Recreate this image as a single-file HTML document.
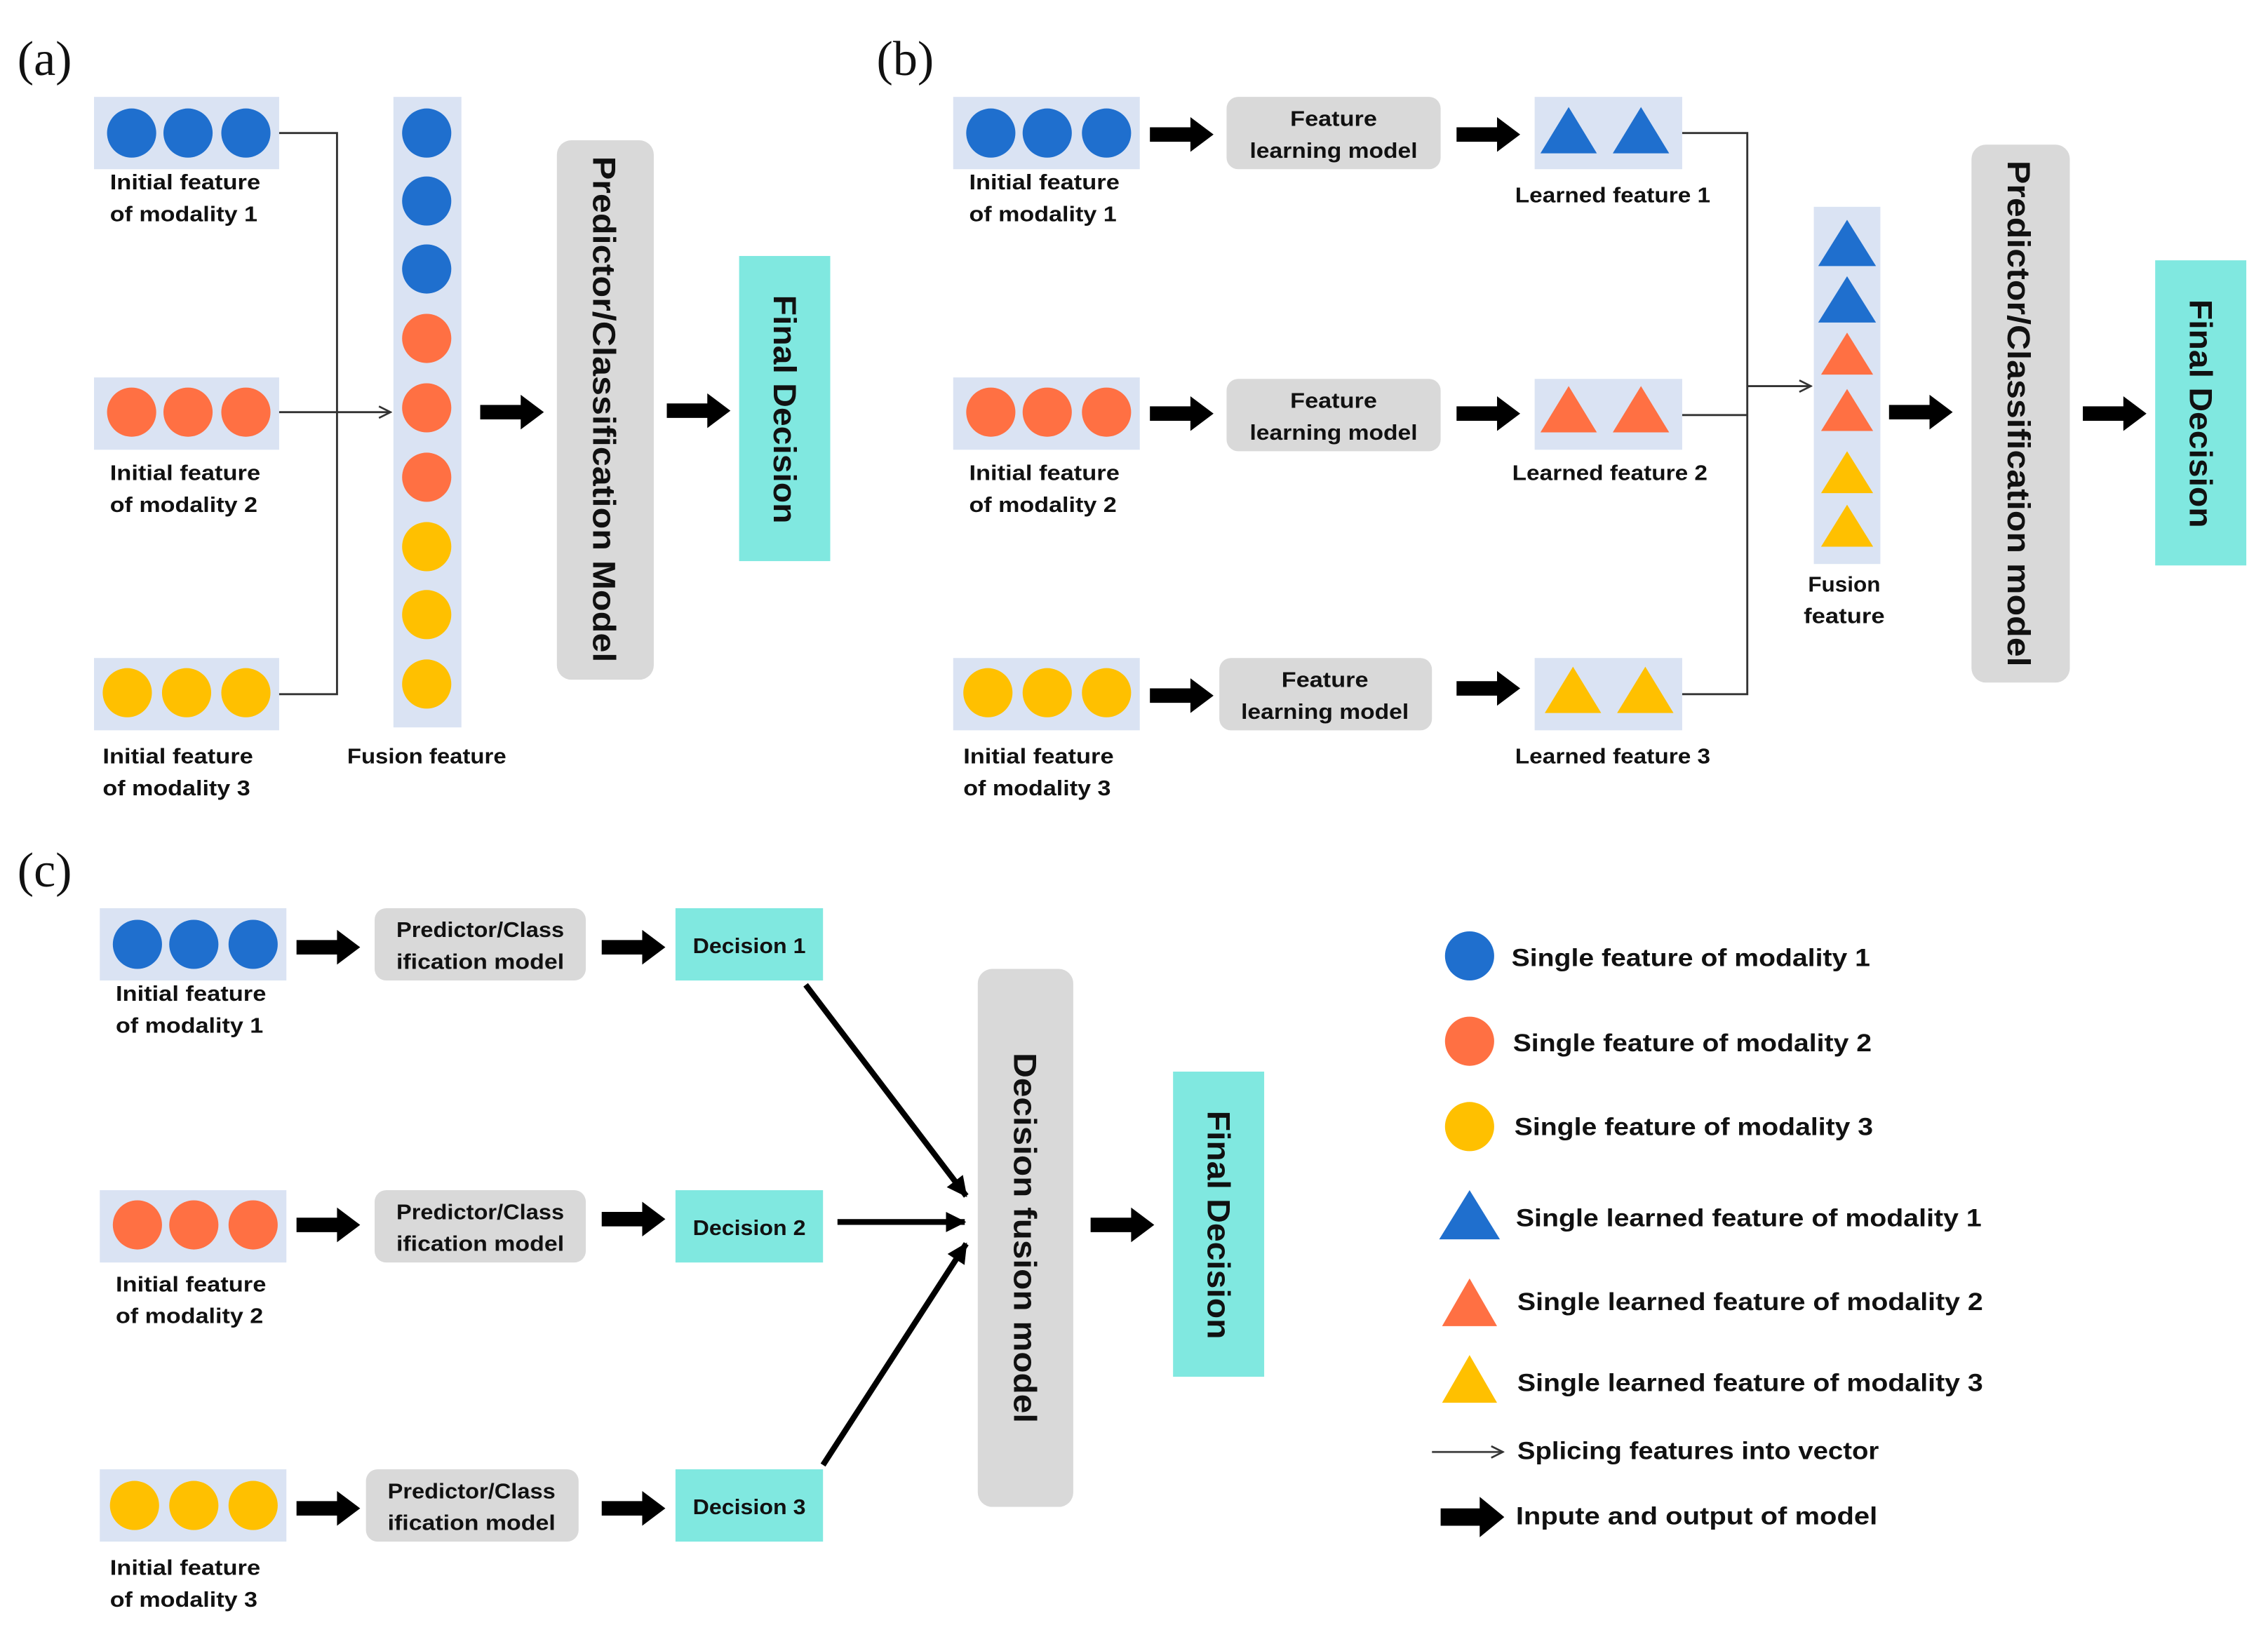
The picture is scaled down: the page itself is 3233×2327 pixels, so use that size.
<!DOCTYPE html>
<html><head><meta charset="utf-8"><style>html,body{margin:0;padding:0;background:#fff}svg{display:block}</style></head>
<body>
<svg width="3233" height="2327" viewBox="0 0 1568 1128.5" preserveAspectRatio="none" xmlns="http://www.w3.org/2000/svg" font-family="Liberation Sans, sans-serif" font-weight="bold">
<defs>
<symbol id="ta" viewBox="0 0 44 24" overflow="visible"><polygon points="0,7 28,7 28,0 44,12 28,24 28,17 0,17" fill="#000"/></symbol>
<marker id="thin" markerWidth="10" markerHeight="10" refX="9" refY="5" orient="auto" markerUnits="userSpaceOnUse"><path d="M1,1 L9,5 L1,9" fill="none" stroke="#333" stroke-width="1.3"/></marker>
<marker id="thk" markerWidth="16" markerHeight="16" refX="13" refY="8" orient="auto" markerUnits="userSpaceOnUse"><path d="M0,1 L14,8 L0,15 Z" fill="#000"/></marker>
</defs>
<rect width="1568" height="1128.5" fill="#fff"/>
<g font-family="Liberation Serif, serif" font-weight="normal" font-size="34" fill="#111">
<text x="12" y="52">(a)</text><text x="606" y="52">(b)</text><text x="12" y="613">(c)</text>
</g>

<!-- (a) -->
<g fill="#dae3f3"><rect x="65" y="67" width="128" height="50"/><rect x="65" y="261" width="128" height="50"/><rect x="65" y="455" width="128" height="50"/><rect x="272" y="67" width="47" height="436"/></g>
<g fill="#1f6fce"><circle cx="91" cy="92" r="17"/><circle cx="130" cy="92" r="17"/><circle cx="170" cy="92" r="17"/><circle cx="295" cy="92" r="17"/><circle cx="295" cy="139" r="17"/><circle cx="295" cy="186" r="17"/></g>
<g fill="#ff7043"><circle cx="91" cy="285" r="17"/><circle cx="130" cy="285" r="17"/><circle cx="170" cy="285" r="17"/><circle cx="295" cy="234" r="17"/><circle cx="295" cy="282" r="17"/><circle cx="295" cy="330" r="17"/></g>
<g fill="#ffc000"><circle cx="88" cy="479" r="17"/><circle cx="129" cy="479" r="17"/><circle cx="170" cy="479" r="17"/><circle cx="295" cy="378" r="17"/><circle cx="295" cy="425" r="17"/><circle cx="295" cy="473" r="17"/></g>
<g stroke="#333" stroke-width="1.4" fill="none"><polyline points="193,92 233,92 233,480 193,480"/><line x1="193" y1="285" x2="270" y2="285" marker-end="url(#thin)"/></g>
<g font-size="15" fill="#111" text-anchor="middle">
<text x="128" y="131" textLength="104" lengthAdjust="spacingAndGlyphs">Initial feature</text><text x="127" y="153" textLength="102" lengthAdjust="spacingAndGlyphs">of modality 1</text>
<text x="128" y="332" textLength="104" lengthAdjust="spacingAndGlyphs">Initial feature</text><text x="127" y="354" textLength="102" lengthAdjust="spacingAndGlyphs">of modality 2</text>
<text x="123" y="528" textLength="104" lengthAdjust="spacingAndGlyphs">Initial feature</text><text x="122" y="550" textLength="102" lengthAdjust="spacingAndGlyphs">of modality 3</text>
<text x="295" y="528" textLength="110" lengthAdjust="spacingAndGlyphs">Fusion feature</text>
</g>
<use href="#ta" x="332" y="273" width="44" height="24"/>
<rect x="385" y="97" width="67" height="373" rx="10" fill="#d9d9d9"/>
<text transform="translate(410,283) rotate(90)" text-anchor="middle" font-size="22" fill="#111" textLength="350" lengthAdjust="spacingAndGlyphs">Predictor/Classification Model</text>
<use href="#ta" x="461" y="272" width="44" height="24"/>
<rect x="511" y="177" width="63" height="211" fill="#80e8e0"/>
<text transform="translate(535,283) rotate(90)" text-anchor="middle" font-size="22" fill="#111" textLength="158" lengthAdjust="spacingAndGlyphs">Final Decision</text>

<!-- (b) -->
<g fill="#dae3f3"><rect x="659" y="67" width="129" height="50"/><rect x="659" y="261" width="129" height="50"/><rect x="659" y="455" width="129" height="50"/>
<rect x="1061" y="67" width="102" height="50"/><rect x="1061" y="262" width="102" height="49"/><rect x="1061" y="455" width="102" height="50"/><rect x="1254" y="143" width="46" height="247"/></g>
<g fill="#1f6fce"><circle cx="685" cy="92" r="17"/><circle cx="724" cy="92" r="17"/><circle cx="765" cy="92" r="17"/>
<polygon points="1065,106 1104,106 1084.5,74"/><polygon points="1115,106 1154,106 1134.5,74"/><polygon points="1257,184 1297,184 1277,152"/><polygon points="1257,223 1297,223 1277,191"/></g>
<g fill="#ff7043"><circle cx="685" cy="285" r="17"/><circle cx="724" cy="285" r="17"/><circle cx="765" cy="285" r="17"/>
<polygon points="1065,299 1104,299 1084.5,267"/><polygon points="1115,299 1154,299 1134.5,267"/><polygon points="1259,259 1295,259 1277,230"/><polygon points="1259,298 1295,298 1277,269"/></g>
<g fill="#ffc000"><circle cx="683" cy="479" r="17"/><circle cx="724" cy="479" r="17"/><circle cx="765" cy="479" r="17"/>
<polygon points="1068,493 1107,493 1087.5,461"/><polygon points="1118,493 1157,493 1137.5,461"/><polygon points="1259,341 1295,341 1277,312"/><polygon points="1259,378 1295,378 1277,349"/></g>
<g stroke="#333" stroke-width="1.4" fill="none"><polyline points="1163,92 1208,92 1208,480 1163,480"/><line x1="1163" y1="287" x2="1208" y2="287"/><line x1="1208" y1="267" x2="1252" y2="267" marker-end="url(#thin)"/></g>
<g font-size="15" fill="#111" text-anchor="middle">
<text x="722" y="131" textLength="104" lengthAdjust="spacingAndGlyphs">Initial feature</text><text x="721" y="153" textLength="102" lengthAdjust="spacingAndGlyphs">of modality 1</text>
<text x="722" y="332" textLength="104" lengthAdjust="spacingAndGlyphs">Initial feature</text><text x="721" y="354" textLength="102" lengthAdjust="spacingAndGlyphs">of modality 2</text>
<text x="718" y="528" textLength="104" lengthAdjust="spacingAndGlyphs">Initial feature</text><text x="717" y="550" textLength="102" lengthAdjust="spacingAndGlyphs">of modality 3</text>
<text x="1115" y="140" textLength="135" lengthAdjust="spacingAndGlyphs">Learned feature 1</text>
<text x="1113" y="332" textLength="135" lengthAdjust="spacingAndGlyphs">Learned feature 2</text>
<text x="1115" y="528" textLength="135" lengthAdjust="spacingAndGlyphs">Learned feature 3</text>
<text x="1275" y="409" textLength="50" lengthAdjust="spacingAndGlyphs">Fusion</text><text x="1275" y="431" textLength="56" lengthAdjust="spacingAndGlyphs">feature</text>
</g>
<g fill="#d9d9d9"><rect x="848" y="67" width="148" height="50" rx="8"/><rect x="848" y="262" width="148" height="50" rx="8"/><rect x="843" y="455" width="147" height="50" rx="8"/></g>
<g font-size="15" fill="#111" text-anchor="middle">
<text x="922" y="87" textLength="60" lengthAdjust="spacingAndGlyphs">Feature</text><text x="922" y="109" textLength="116" lengthAdjust="spacingAndGlyphs">learning model</text>
<text x="922" y="282" textLength="60" lengthAdjust="spacingAndGlyphs">Feature</text><text x="922" y="304" textLength="116" lengthAdjust="spacingAndGlyphs">learning model</text>
<text x="916" y="475" textLength="60" lengthAdjust="spacingAndGlyphs">Feature</text><text x="916" y="497" textLength="116" lengthAdjust="spacingAndGlyphs">learning model</text>
</g>
<use href="#ta" x="795" y="81" width="44" height="24"/><use href="#ta" x="795" y="274" width="44" height="24"/><use href="#ta" x="795" y="469" width="44" height="24"/>
<use href="#ta" x="1007" y="81" width="44" height="24"/><use href="#ta" x="1007" y="274" width="44" height="24"/><use href="#ta" x="1007" y="464" width="44" height="24"/>
<use href="#ta" x="1306" y="273" width="44" height="24"/>
<rect x="1363" y="100" width="68" height="372" rx="10" fill="#d9d9d9"/>
<text transform="translate(1388,286) rotate(90)" text-anchor="middle" font-size="22" fill="#111" textLength="350" lengthAdjust="spacingAndGlyphs">Predictor/Classification model</text>
<use href="#ta" x="1440" y="274" width="44" height="24"/>
<rect x="1490" y="180" width="63" height="211" fill="#80e8e0"/>
<text transform="translate(1514,286) rotate(90)" text-anchor="middle" font-size="22" fill="#111" textLength="158" lengthAdjust="spacingAndGlyphs">Final Decision</text>

<!-- (c) -->
<g fill="#dae3f3"><rect x="69" y="628" width="129" height="50"/><rect x="69" y="823" width="129" height="50"/><rect x="69" y="1016" width="129" height="50"/></g>
<g fill="#1f6fce"><circle cx="95" cy="653" r="17"/><circle cx="134" cy="653" r="17"/><circle cx="175" cy="653" r="17"/></g>
<g fill="#ff7043"><circle cx="95" cy="847" r="17"/><circle cx="134" cy="847" r="17"/><circle cx="175" cy="847" r="17"/></g>
<g fill="#ffc000"><circle cx="93" cy="1041" r="17"/><circle cx="134" cy="1041" r="17"/><circle cx="175" cy="1041" r="17"/></g>
<g font-size="15" fill="#111" text-anchor="middle">
<text x="132" y="692" textLength="104" lengthAdjust="spacingAndGlyphs">Initial feature</text><text x="131" y="714" textLength="102" lengthAdjust="spacingAndGlyphs">of modality 1</text>
<text x="132" y="893" textLength="104" lengthAdjust="spacingAndGlyphs">Initial feature</text><text x="131" y="915" textLength="102" lengthAdjust="spacingAndGlyphs">of modality 2</text>
<text x="128" y="1089" textLength="104" lengthAdjust="spacingAndGlyphs">Initial feature</text><text x="127" y="1111" textLength="102" lengthAdjust="spacingAndGlyphs">of modality 3</text>
</g>
<g fill="#d9d9d9"><rect x="259" y="628" width="146" height="50" rx="8"/><rect x="259" y="823" width="146" height="50" rx="8"/><rect x="253" y="1016" width="147" height="50" rx="8"/></g>
<g font-size="15" fill="#111" text-anchor="middle">
<text x="332" y="648" textLength="116" lengthAdjust="spacingAndGlyphs">Predictor/Class</text><text x="332" y="670" textLength="116" lengthAdjust="spacingAndGlyphs">ification model</text>
<text x="332" y="843" textLength="116" lengthAdjust="spacingAndGlyphs">Predictor/Class</text><text x="332" y="865" textLength="116" lengthAdjust="spacingAndGlyphs">ification model</text>
<text x="326" y="1036" textLength="116" lengthAdjust="spacingAndGlyphs">Predictor/Class</text><text x="326" y="1058" textLength="116" lengthAdjust="spacingAndGlyphs">ification model</text>
</g>
<g fill="#80e8e0"><rect x="467" y="628" width="102" height="50"/><rect x="467" y="823" width="102" height="50"/><rect x="467" y="1016" width="102" height="50"/></g>
<g font-size="15" fill="#111" text-anchor="middle">
<text x="518" y="659" textLength="78" lengthAdjust="spacingAndGlyphs">Decision 1</text>
<text x="518" y="854" textLength="78" lengthAdjust="spacingAndGlyphs">Decision 2</text>
<text x="518" y="1047" textLength="78" lengthAdjust="spacingAndGlyphs">Decision 3</text>
</g>
<use href="#ta" x="205" y="643" width="44" height="24"/><use href="#ta" x="205" y="835" width="44" height="24"/><use href="#ta" x="205" y="1031" width="44" height="24"/>
<use href="#ta" x="416" y="643" width="44" height="24"/><use href="#ta" x="416" y="831" width="44" height="24"/><use href="#ta" x="416" y="1031" width="44" height="24"/>
<g stroke="#000" stroke-width="4" fill="none">
<line x1="557" y1="681" x2="668" y2="827" marker-end="url(#thk)"/>
<line x1="579" y1="845" x2="667" y2="845" marker-end="url(#thk)"/>
<line x1="569" y1="1013" x2="668" y2="860" marker-end="url(#thk)"/>
</g>
<rect x="676" y="670" width="66" height="372" rx="10" fill="#d9d9d9"/>
<text transform="translate(701,856) rotate(90)" text-anchor="middle" font-size="22" fill="#111" textLength="256" lengthAdjust="spacingAndGlyphs">Decision fusion model</text>
<use href="#ta" x="754" y="835" width="44" height="24"/>
<rect x="811" y="741" width="63" height="211" fill="#80e8e0"/>
<text transform="translate(835,847) rotate(90)" text-anchor="middle" font-size="22" fill="#111" textLength="158" lengthAdjust="spacingAndGlyphs">Final Decision</text>

<!-- legend -->
<circle cx="1016" cy="661" r="17" fill="#1f6fce"/><circle cx="1016" cy="720" r="17" fill="#ff7043"/><circle cx="1016" cy="779" r="17" fill="#ffc000"/>
<polygon points="995,857 1037,857 1016,823" fill="#1f6fce"/>
<polygon points="997,917 1035,917 1016,884" fill="#ff7043"/>
<polygon points="997,970 1035,970 1016,937" fill="#ffc000"/>
<line x1="990" y1="1004" x2="1039" y2="1004" stroke="#444" stroke-width="1.4" marker-end="url(#thin)"/>
<polygon points="996,1043 1023,1043 1023,1035 1040,1049 1023,1063 1023,1055 996,1055" fill="#000"/>
<g font-size="17" fill="#111">
<text x="1045" y="668" textLength="248" lengthAdjust="spacingAndGlyphs">Single feature of modality 1</text>
<text x="1046" y="727" textLength="248" lengthAdjust="spacingAndGlyphs">Single feature of modality 2</text>
<text x="1047" y="785" textLength="248" lengthAdjust="spacingAndGlyphs">Single feature of modality 3</text>
<text x="1048" y="848" textLength="322" lengthAdjust="spacingAndGlyphs">Single learned feature of modality 1</text>
<text x="1049" y="906" textLength="322" lengthAdjust="spacingAndGlyphs">Single learned feature of modality 2</text>
<text x="1049" y="962" textLength="322" lengthAdjust="spacingAndGlyphs">Single learned feature of modality 3</text>
<text x="1049" y="1009" textLength="250" lengthAdjust="spacingAndGlyphs">Splicing features into vector</text>
<text x="1048" y="1054" textLength="250" lengthAdjust="spacingAndGlyphs">Inpute and output of model</text>
</g>
</svg>
</body></html>
